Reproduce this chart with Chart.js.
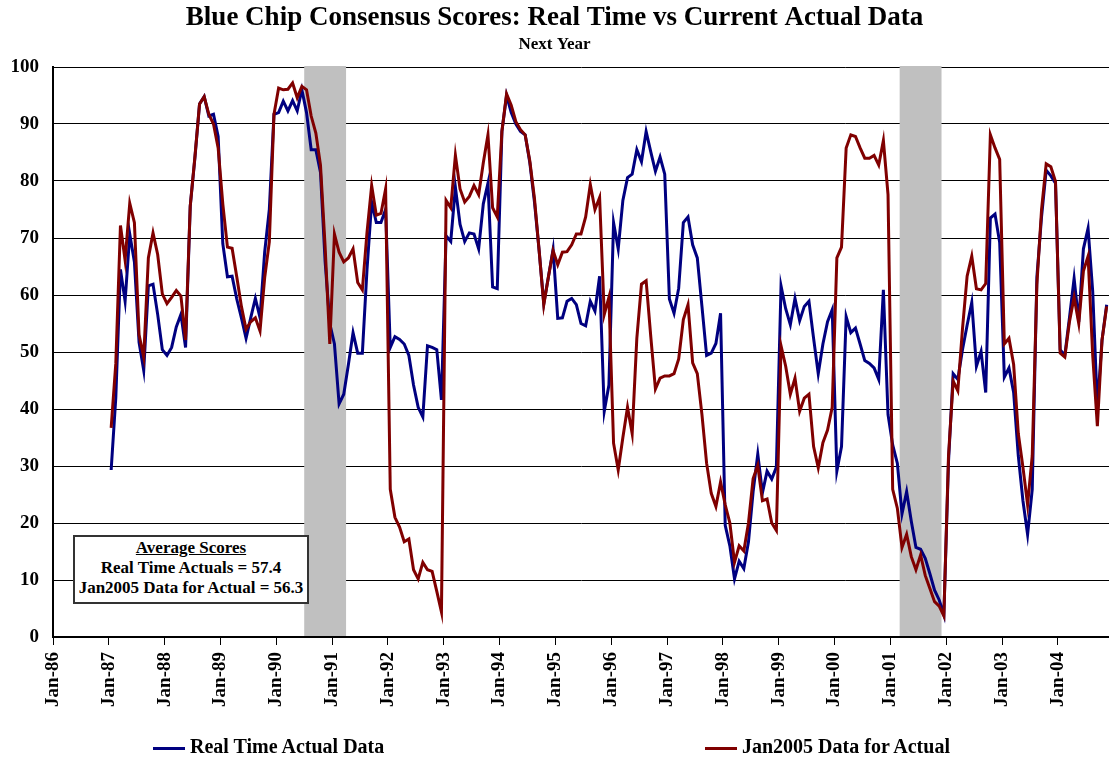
<!DOCTYPE html>
<html>
<head>
<meta charset="utf-8">
<title>Blue Chip Consensus Scores</title>
<script src="https://cdn.jsdelivr.net/npm/chart.js@4.4.1/dist/chart.umd.min.js"></script>
<style>
  body { margin: 0; background: #fff; }
  #wrap { position: relative; width: 1109px; height: 757px; font-family: "Liberation Serif", "Times New Roman", serif; }
  #avgBox { position: absolute; left: 73px; top: 535px; width: 236px; height: 69px; box-sizing: border-box;
    border: 2px solid #333; background: #fff; text-align: center; font-weight: bold; font-size: 17px;
    line-height: 20px; padding-top: 1px; white-space: nowrap; }
  .leg { position: absolute; top: 735px; font-weight: bold; font-size: 20px; line-height: 22px; white-space: nowrap; }
  .leg span { display: inline-block; width: 32px; height: 3px; vertical-align: middle; margin-right: 5px; }
</style>
</head>
<body>
<div id="wrap">
  <canvas id="myChart"></canvas>
  <div id="avgBox"></div>
  <div class="leg" id="leg1" style="left:153px"></div>
  <div class="leg" id="leg2" style="left:705px"></div>
</div>
<script>
// tick labels on the x axis, one per January
var tickLabels = ["Jan-86", "Jan-87", "Jan-88", "Jan-89", "Jan-90", "Jan-91", "Jan-92", "Jan-93",
  "Jan-94", "Jan-95", "Jan-96", "Jan-97", "Jan-98", "Jan-99", "Jan-00", "Jan-01", "Jan-02", "Jan-03", "Jan-04"];

var firstMonth = "Jan-87"; // both series start here, monthly

// Real Time Actual Data (monthly, Jan-87 ...)
var realTime = [
  29.3, 42, 64.5, 58.9, 70.7, 65.8, 51.7, 46.8, 61.6, 61.9, 56.6, 50.4,
  49.4, 50.8, 54.4, 56.6, 50.8, 75.6, 84, 93.5, 94.8, 91.4, 91.7, 87.8,
  69, 63.2, 63.3, 59.3, 56, 52.4, 56, 59.4, 56, 67.5, 75, 91.7,
  92, 94, 92.3, 94.1, 92.3, 96, 92, 85.5, 85.5, 81.5, 65.8, 55,
  51.4, 40.9, 42.6, 47.8, 53.4, 49.8, 49.8, 64.5, 76.3, 72.7, 72.7, 75,
  50.8, 52.7, 52.2, 51.4, 49.4, 44.2, 40.3, 38.6, 51.1, 50.8, 50.4, 41.6,
  70.4, 69.4, 78.9, 72.4, 69.4, 70.9, 70.7, 68.1, 76, 79.6, 61.4, 61.1,
  88.7, 95, 92, 90, 88.7, 88.1, 83.2, 76.3, 67.8, 58.5, 63.2, 68,
  55.9, 56, 58.9, 59.4, 58.3, 55, 54.6, 58.9, 57.2, 63.3, 39.6, 44.2,
  72.7, 68.1, 76.6, 80.6, 81.2, 85.5, 83.4, 88.7, 85.1, 81.7, 84.2, 81.2,
  59.3, 56.8, 61.2, 72.7, 73.7, 68.8, 66.5, 58, 49.4, 49.8, 51.5, 56.8,
  19.6, 16, 10.2, 13.3, 12, 16.7, 25.5, 32.1, 25.3, 29.1, 27.7, 29.8,
  61.6, 57.6, 54.8, 59.4, 55.5, 58, 58.9, 52.4, 46.2, 51.4, 55.3, 57.4,
  29.1, 33.4, 56.2, 53.4, 54.2, 51.4, 48.5, 48, 47.2, 45.2, 60.9, 39,
  33.7, 30.5, 21.6, 25.5, 20.3, 15.7, 15.4, 13.8, 11.1, 8.2, 6.5, 3.9,
  30.8, 46.2, 45.2, 50.4, 54.7, 58.7, 47.5, 50.1, 42.9, 73.5, 74.2, 69.2,
  45.6, 47.2, 42.9, 31.8, 23.9, 18, 25.9, 63.2, 73.7, 81.9, 80.9, 79.6,
  50.4, 49.4, 56, 62.9, 55.3, 68.1, 71.7, 60.6, 40.3, 52.1, 58.3
];

// Jan2005 Data for Actual (monthly, Jan-87 ...)
var jan2005 = [
  36.7, 48, 72.2, 66.1, 76.1, 72.7, 53, 49.1, 66.5, 70.9, 67.1, 60.2,
  58.5, 59.6, 60.8, 59.8, 52.1, 75.6, 84.2, 93.5, 94.8, 91.7, 90, 85.8,
  76, 68.4, 68.2, 63.2, 58, 54, 55.3, 56, 53.7, 63, 69.3, 91.7,
  96.3, 96, 96.1, 97.2, 94.6, 96.6, 96, 91.4, 88.4, 82.8, 68.4, 51.4,
  70.7, 67.5, 65.8, 66.5, 68.1, 62.2, 60.9, 71, 79.2, 74, 74.3, 78.6,
  25.9, 21, 19.3, 16.7, 17.2, 11.8, 10.2, 13.1, 11.8, 11.5, 8, 4.4,
  76.6, 75.3, 84.5, 78.6, 76.3, 77.3, 79.2, 77.6, 83.2, 88.1, 75.3, 73.7,
  88.7, 95.3, 93.3, 90.4, 89, 88.1, 83.5, 76.9, 67.8, 58.3, 63.2, 67.8,
  65.3, 67.5, 67.6, 68.8, 70.7, 70.7, 73.7, 79.4, 75, 77.1, 56.6, 59.6,
  34, 29.3, 35, 40.3, 35.7, 52.4, 61.9, 62.5, 52.7, 43.5, 45.4, 45.8,
  45.8, 46.2, 48.8, 55.7, 58.3, 48.1, 46.2, 39, 30.5, 25.2, 22.9, 27.2,
  23.2, 20, 13.1, 16, 15.1, 20, 27.8, 30.1, 23.9, 24.2, 20, 18.7,
  51.1, 47.5, 42.6, 45.4, 39.6, 41.9, 42.6, 33.4, 29.7, 34.1, 36.3, 40.3,
  66.5, 68.4, 85.8, 88.1, 87.8, 85.8, 84, 84, 84.5, 82.8, 87.1, 77.6,
  25.9, 22.6, 15.7, 18, 14.1, 11.8, 14.4, 10.8, 8.5, 6.2, 5.4, 3.7,
  31.8, 44.9, 43.2, 54, 63.3, 66.8, 61.1, 60.9, 62, 88.1, 85.8, 83.8,
  51.4, 52.4, 47.8, 35.7, 29.8, 23.2, 31.8, 61.9, 75, 83, 82.5, 79.9,
  49.8, 49.1, 55.3, 59.6, 55, 64.2, 66.8, 49.4, 37, 52.1, 58
];

// shaded recessions (first month, last month)
var recessions = [["Jul-90", "Mar-91"], ["Mar-01", "Nov-01"]];

var seriesNames = ["Real Time Actual Data", "Jan2005 Data for Actual"];
var seriesColors = ["#000080", "#800000"];
var avgTitle = "Average Scores";
var avgLines = ["Real Time Actuals = 57.4", "Jan2005 Data for Actual = 56.3"];

var monthNames = ["Jan", "Feb", "Mar", "Apr", "May", "Jun", "Jul", "Aug", "Sep", "Oct", "Nov", "Dec"];
function monthIndex(lbl) {
  var p = lbl.split("-");
  var yr = Number(p[1]);
  yr = yr < 50 ? 2000 + yr : 1900 + yr;
  return (yr - 1986) * 12 + monthNames.indexOf(p[0]);
}

function toPoints(vals) {
  var start = monthIndex(firstMonth);
  return vals.map(function (v, i) { return { x: start + i + 0.5, y: v }; });
}

document.getElementById("avgBox").innerHTML =
  "<u>" + avgTitle + "</u><br>" + avgLines.join("<br>");
document.getElementById("leg1").innerHTML =
  '<span style="background:' + seriesColors[0] + '"></span>' + seriesNames[0];
document.getElementById("leg2").innerHTML =
  '<span style="background:' + seriesColors[1] + '"></span>' + seriesNames[1];

var serif = "'Liberation Serif', 'Times New Roman', serif";

const shadePlugin = {
  id: "recessionShade",
  beforeDatasetsDraw(chart) {
    const { ctx, chartArea, scales } = chart;
    ctx.save();
    ctx.fillStyle = "#c0c0c0";
    recessions.forEach(function (r) {
      const x0 = scales.x.getPixelForValue(monthIndex(r[0]));
      const x1 = scales.x.getPixelForValue(monthIndex(r[1]) + 1);
      ctx.fillRect(x0, chartArea.top - 1, x1 - x0, chartArea.bottom - chartArea.top);
    });
    ctx.restore();
  }
};

createChart();

function createChart() {
  const ctx = document.getElementById("myChart");
  new Chart(ctx, {
    type: "line",
    data: {
      datasets: [
        {
          label: seriesNames[0],
          data: toPoints(realTime),
          borderColor: seriesColors[0],
          borderWidth: 3,
          pointRadius: 0,
          order: 2,
        },
        {
          label: seriesNames[1],
          data: toPoints(jan2005),
          borderColor: seriesColors[1],
          borderWidth: 3,
          pointRadius: 0,
          order: 1,
        },
      ],
    },
    options: {
      responsive: true,
      maintainAspectRatio: false,
      animation: false,
      layout: { padding: 0 },
      plugins: {
        legend: { display: false },
        tooltip: { enabled: false },
        title: {
          display: true,
          text: "Blue Chip Consensus Scores: Real Time vs Current Actual Data",
          color: "#000",
          font: { family: serif, size: 27, weight: "bold" },
          padding: { top: 2, bottom: 0 },
        },
        subtitle: {
          display: true,
          text: "Next Year",
          color: "#000",
          font: { family: serif, size: 17, weight: "bold" },
          padding: { top: 0.5, bottom: 11.7 },
        },
      },
      scales: {
        x: {
          type: "linear",
          min: 0,
          max: 227,
          afterBuildTicks: function (axis) {
            axis.ticks = tickLabels.map(function (t, i) { return { value: i * 12 }; });
          },
          afterFit: function (s) {
            s.height = 120;
            s.paddingRight = 0;
          },
          ticks: {
            color: "#000",
            font: { family: serif, size: 19, weight: "bold" },
            minRotation: 90,
            maxRotation: 90,
            padding: 7,
            autoSkip: false,
            callback: function (v) { return tickLabels[Math.round(v / 12)]; },
          },
          grid: { drawOnChartArea: false, tickLength: 8, color: "#000" },
          border: { color: "#000", width: 2 },
        },
        y: {
          min: 0,
          max: 100,
          afterFit: function (s) { s.width = 53; },
          ticks: {
            stepSize: 10,
            color: "#000",
            padding: 14,
            font: { family: serif, size: 19, weight: "bold" },
          },
          grid: { color: "#000", drawTicks: false },
          border: { color: "#000", width: 2 },
        },
      },
    },
    plugins: [shadePlugin],
  });
}
</script>
</body>
</html>
